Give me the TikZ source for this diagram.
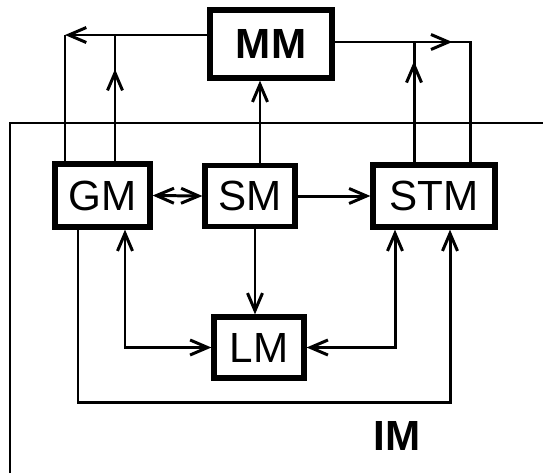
\documentclass[tikz,border=0pt]{standalone}
\usepackage{fontspec}
\setmainfont{Liberation Sans}
\usetikzlibrary{arrows.meta,decorations.markings}
\begin{document}
\begin{tikzpicture}[
  box/.style={draw, line width=3pt, inner sep=0pt, font=\fontsize{24}{28}\selectfont},
  link/.style={line width=1.7pt, >={Straight Barb[length=3.5mm,width=3mm]}},
  midarrow/.style={postaction={decorate}, decoration={markings, mark=at position #1 with {\arrow{>}}}}
]
\useasboundingbox (0,0) rectangle (10.86,-9.46);

% frame of IM
\draw[line width=0.8pt] (0.2,-9.46) -- (0.2,-2.46) -- (10.86,-2.46);

\node[box, minimum width=2.44cm, minimum height=1.36cm] at (5.42,-0.88) (mm) {\textbf{MM}};
\node[box, minimum width=1.9cm, minimum height=1.26cm] at (2.05,-3.91) (gm) {GM};
\node[box, minimum width=1.8cm, minimum height=1.22cm] at (5.0,-3.92) (sm) {SM};
\node[box, minimum width=2.44cm, minimum height=1.24cm] at (8.68,-3.92) (stm) {STM};
\node[box, minimum width=1.8cm, minimum height=1.22cm] at (5.18,-6.95) (lm) {LM};
\node[font=\fontsize{24}{28}\selectfont\bfseries] at (7.94,-8.72) (im) {IM};

\coordinate (tl) at (1.30,-0.70);
\coordinate (tr) at (9.40,-0.84);

% upper links
\draw[link, ->] (mm.west |- tl) -- (tl);
\draw[link] (tl) -- (gm.north -| tl);
\draw[link, midarrow=0.73] ([xshift=0.25cm]gm.north) -- ([xshift=0.25cm]gm.north |- tl);
\draw[link, ->] ([xshift=0.2cm]sm.north) -- ([xshift=0.2cm]sm.north |- mm.south);
\draw[link, midarrow=0.46] (mm.east |- tr) -- (tr) -- (stm.north -| tr);
\draw[link, midarrow=0.84] ([xshift=-0.4cm]stm.north) -- ([xshift=-0.4cm]stm.north |- tr);

% middle row
\draw[link, <->] (gm.east) -- (sm.west);
\draw[link, ->] (sm.east) -- (stm.west);
\draw[link, ->] ([xshift=0.1cm]sm.south) -- ([xshift=0.1cm]sm.south |- lm.north);

% lower links
\draw[link, <->] ([xshift=0.45cm]gm.south) |- (lm.west);
\draw[link, <->] ([xshift=-0.78cm]stm.south) |- (lm.east);
\draw[link, ->] ([xshift=-0.49cm]gm.south) -- ([xshift=-0.49cm]gm.south |- 0,-8.04) -| ([xshift=0.32cm]stm.south);
\end{tikzpicture}
\end{document}
